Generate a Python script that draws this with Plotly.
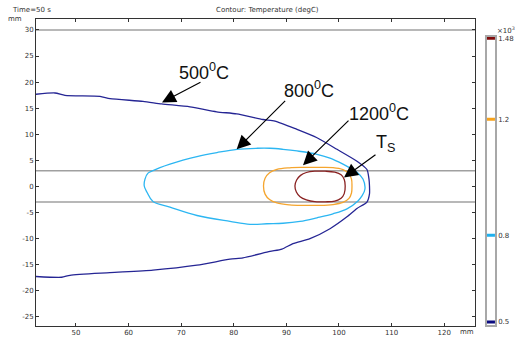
import plotly.graph_objects as go

# Isotherm paths (mm) at t = 50 s
iso_500_x = [42.0, 46.01, 47.91, 54.56, 56.46, 62.74, 66.29, 71.67, 76.75, 80.55, 85.55, 87.83,
             92.02, 95.82, 99.62, 103.42, 105.32, 105.70, 105.80, 105.80, 105.32, 103.42, 101.52,
             98.29, 94.49, 91.25, 89.16, 86.88, 81.75, 79.28, 73.00, 64.64, 56.46, 48.86, 47.28, 42.0]
iso_500_y = [17.62, 17.90, 17.45, 17.26, 16.82, 16.30, 15.81, 15.24, 14.29, 13.90, 12.82, 12.51,
             10.91, 9.31, 7.10, 4.82, 3.22, 1.41, 0.06, -1.47, -3.02, -4.25, -5.85,
             -8.13, -10.04, -10.99, -12.04, -12.50, -13.71, -13.98, -15.13, -16.08, -16.57, -17.07, -17.45, -17.28]

iso_800_x = [62.98, 63.12, 63.69, 64.64, 65.97, 67.87, 70.34, 73.00, 76.81, 80.61, 84.41, 86.88,
             89.35, 92.02, 95.82, 98.29, 100.76, 102.47, 103.42, 104.56, 104.94, 104.37, 103.61,
             101.52, 98.86, 95.82, 92.59, 89.35, 86.31, 83.08, 79.28, 73.00, 67.87, 64.64, 63.50, 62.98]
iso_800_y = [0.06, 1.39, 2.53, 3.01, 3.58, 4.25, 5.01, 5.71, 6.48, 7.10, 7.30, 7.30,
             7.10, 6.78, 6.15, 5.39, 4.25, 3.30, 2.72, 1.39, -0.51, -1.85, -2.80,
             -4.32, -5.28, -6.04, -6.74, -7.09, -7.18, -7.31, -6.74, -5.60, -4.00, -2.93, -1.14, 0.06]

iso_1200_x = [85.65, 85.95, 86.80, 88.20, 90.60, 93.16, 96.01, 98.86, 100.76, 101.81, 102.38, 102.47,
              102.38, 101.90, 100.76, 98.86, 96.01, 93.16, 90.60, 88.20, 86.80, 85.95, 85.65]
iso_1200_y = [0.06, 1.55, 2.60, 3.25, 3.55, 3.62, 3.62, 3.58, 3.20, 2.53, 1.39, 0.06,
              -1.28, -2.32, -3.09, -3.50, -3.66, -3.66, -3.56, -3.20, -2.55, -1.50, 0.06]

iso_ts_x = [91.63, 91.95, 92.70, 93.80, 95.40, 97.40, 99.20, 100.40, 101.00, 101.18, 101.00, 100.40,
            99.20, 97.40, 95.40, 93.80, 92.60, 91.90, 91.63]
iso_ts_y = [0.06, 1.20, 2.10, 2.65, 2.90, 2.90, 2.70, 2.20, 1.30, 0.06, -1.40, -2.30,
            -2.85, -2.97, -2.95, -2.60, -2.00, -1.10, 0.06]

# Contour levels (x10^3 degC) and their colours
levels = [0.5, 0.8, 1.2, 1.48]
level_text = ["0.5", "0.8", "1.2", "1.48"]
level_colors = ["#0b0b80", "#1fb0ee", "#f7a21b", "#7f0b0b"]
line_colors = ["#252594", "#2cb6f2", "#f5a52e", "#8a2222"]
smoothing = [0.6, 1.0, 1.0, 1.0]

# Geometry boundaries (mm)
plate_lines = [30, 3, -3]

x_ticks = [50, 60, 70, 80, 90, 100, 110, 120]
y_ticks = [-25, -20, -15, -10, -5, 0, 5, 10, 15, 20, 25, 30]

fig = go.Figure()

for y0 in plate_lines:
    fig.add_hline(y=y0, line=dict(color="#a0a0a0", width=1.5), layer="below")

paths = [(iso_500_x, iso_500_y), (iso_800_x, iso_800_y), (iso_1200_x, iso_1200_y), (iso_ts_x, iso_ts_y)]
for (px, py), col, sm in zip(paths, line_colors, smoothing):
    fig.add_trace(go.Scatter(x=px, y=py, mode="lines",
                             line=dict(color=col, width=1.3, shape="spline", smoothing=sm),
                             hoverinfo="skip", showlegend=False))

# Colour legend: one bar per contour level
for lvl, col in zip(levels, level_colors):
    fig.add_trace(go.Scatter(x=[0, 1], y=[lvl, lvl], xaxis="x2", yaxis="y2", mode="lines",
                             line=dict(color=col, width=3), hoverinfo="skip", showlegend=False))

tick_font = dict(family="DejaVu Sans", size=7, color="#333333")
label_font = dict(family="Arial, Liberation Sans", size=18, color="#111111")

fig.update_layout(
    width=520, height=342,
    margin=dict(l=36, r=5, t=19, b=14),
    paper_bgcolor="white", plot_bgcolor="white",
    xaxis=dict(domain=[0, 0.9165], range=[42.40, 125.86], tickvals=x_ticks,
               ticktext=[str(v) for v in x_ticks], ticks="inside", ticklen=3,
               tickcolor="#333", showline=True, linecolor="#333", linewidth=1,
               mirror="ticks", showgrid=False, zeroline=False, tickfont=tick_font),
    yaxis=dict(range=[-26.80, 32.10], tickvals=y_ticks,
               ticktext=[str(v) for v in y_ticks], ticks="inside", ticklen=3,
               tickcolor="#333", showline=True, linecolor="#333", linewidth=1,
               mirror="ticks", showgrid=False, zeroline=False, tickfont=tick_font),
    xaxis2=dict(domain=[0.9409, 0.9582], range=[0, 1], anchor="y2", showline=True,
                linecolor="#a8a8a8", linewidth=1.5, mirror=True, showticklabels=False,
                ticks="", showgrid=False, zeroline=False),
    yaxis2=dict(domain=[0.0042, 0.9427], range=[0.4907, 1.4855], anchor="x2", side="right",
                tickvals=levels, ticktext=level_text, ticks="", showline=True,
                linecolor="#a8a8a8", linewidth=1.5, mirror=True, showgrid=False,
                zeroline=False, tickfont=tick_font),
)

small = dict(family="DejaVu Sans", size=7, color="#333333")
ann = [
    dict(text="Time=50 s", xref="paper", yref="paper", x=-0.0543, y=1.029,
         xanchor="left", yanchor="middle", showarrow=False, font=small),
    dict(text="Contour: Temperature (degC)", xref="paper", yref="paper", x=0.4823, y=1.029,
         xanchor="center", yanchor="middle", showarrow=False, font=small),
    dict(text="mm", xref="paper", yref="paper", x=-0.0438, y=1.0,
         xanchor="center", yanchor="middle", showarrow=False, font=small),
    dict(text="mm", xref="paper", yref="paper", x=0.8998, y=-0.0194,
         xanchor="center", yanchor="middle", showarrow=False, font=small),
    dict(text="\u00d710<sup>3</sup>", xref="paper", yref="paper", x=0.958, y=0.964,
         xanchor="left", yanchor="middle", showarrow=False, font=small),
    # Isotherm labels
    dict(text="500<sup>0</sup>C", x=74.43, y=22.02, showarrow=False, font=label_font),
    dict(text="800<sup>0</sup>C", x=94.24, y=18.67, showarrow=False, font=label_font),
    dict(text="1200<sup>0</sup>C", x=107.6, y=14.15, showarrow=False, font=label_font),
    dict(text="T<sub>S</sub>", x=108.9, y=8.2, showarrow=False, font=label_font),
]
# Arrows pointing at each isotherm
arrows = [(66.35, 16.1, 40, -21), (80.55, 7.10, 50, -50), (93.16, 4.06, 47, -46), (100.95, 1.68, 33, -24)]
for x0, y0, dx, dy in arrows:
    ann.append(dict(text="", x=x0, y=y0, ax=dx, ay=dy, showarrow=True, arrowhead=2,
                    arrowsize=2.3, arrowwidth=1.2, arrowcolor="#000000"))
fig.update_layout(annotations=ann)

fig.write_html("out.html")
